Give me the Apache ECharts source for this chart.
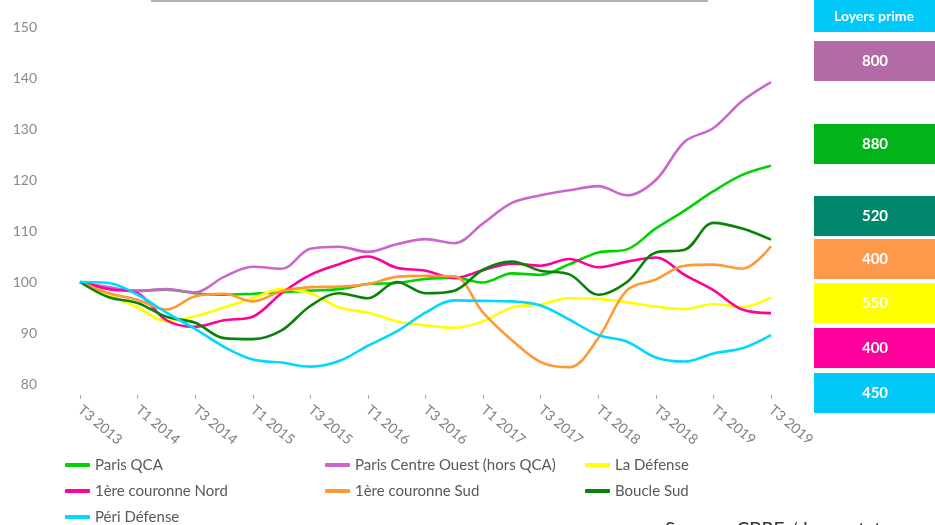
<!DOCTYPE html>
<html>
<head>
<meta charset="utf-8">
<script src="https://cdn.jsdelivr.net/npm/echarts@6/dist/echarts.min.js"></script>
<style>
  html, body { margin: 0; padding: 0; background: #fff; }
  #chart { width: 935px; height: 525px; }
</style>
</head>
<body>
<div id="chart"></div>
<script>
// trimestres T3 2013 -> T3 2019
const quarters = [
  "T3 2013", "T4 2013", "T1 2014", "T2 2014", "T3 2014", "T4 2014",
  "T1 2015", "T2 2015", "T3 2015", "T4 2015", "T1 2016", "T2 2016",
  "T3 2016", "T4 2016", "T1 2017", "T2 2017", "T3 2017", "T4 2017",
  "T1 2018", "T2 2018", "T3 2018", "T4 2018", "T1 2019", "T2 2019", "T3 2019"
];
const yTicks = [80, 90, 100, 110, 120, 130, 140, 150];

const parisQCA = [100, 98.8, 98.3, 98.5, 97.8, 97.5, 97.7, 98, 98.3, 98.6, 99.6, 99.8, 100.6,
  100.8, 99.9, 101.7, 101.4, 103.5, 105.8, 106.4, 110.5, 114, 117.8, 121, 122.8];
const parisCentreOuest = [100, 99, 98.2, 98.6, 98, 101, 103, 102.6, 106.5, 106.9, 105.9, 107.4, 108.4,
  107.6, 111.5, 115.5, 117, 118, 118.8, 117, 120, 127.5, 130.2, 135.5, 139.2];
const laDefense = [100, 97.5, 95, 92.3, 93.3, 95, 96.8, 98.6, 97.8, 95, 94, 92.3, 91.5,
  91, 92.3, 95, 95.6, 96.8, 96.7, 96, 95.2, 94.7, 95.7, 95.1, 97];
const couronneNord = [100, 98.6, 97.8, 92.5, 91.2, 92.5, 93.2, 97.8, 101.4, 103.5, 105, 102.8, 102.2,
  100.8, 102.3, 103.6, 103.2, 104.5, 102.9, 104, 104.8, 101.4, 98.4, 94.6, 93.9];
const couronneSud = [100, 97.8, 96.5, 94.6, 97.2, 97.7, 96.2, 98.2, 99, 99.1, 99.6, 101, 101.2,
  101.1, 94, 88.6, 84.3, 83.3, 89, 98.4, 100.5, 103.2, 103.4, 102.6, 107];
const boucleSud = [100, 97, 95.9, 93.2, 92, 89, 88.8, 90.5, 95.3, 97.8, 96.8, 100, 97.8,
  98.3, 102.4, 104, 102.2, 101.5, 97.5, 100, 105.8, 106.3, 111.6, 110.5, 108.3];
const periDefense = [100, 99.8, 97.5, 94, 90.8, 87.3, 84.8, 84.2, 83.4, 84.5, 87.5, 90.3, 94,
  96.4, 96.3, 96.2, 95.4, 92.6, 89.6, 88.3, 85.2, 84.4, 86, 87, 89.6];

const seriesNames = [
  "Paris QCA", "Paris Centre Ouest (hors QCA)", "La Défense",
  "1ère couronne Nord", "1ère couronne Sud", "Boucle Sud", "Péri Défense"
];
const seriesValues = [parisQCA, parisCentreOuest, laDefense, couronneNord, couronneSud, boucleSud, periDefense];
const seriesColors = ["#00d400", "#cc66cc", "#ffff00", "#ff0099", "#ff9933", "#0a820a", "#00d8ff"];

// encadré "Loyers prime"
const primeTitle = "Loyers prime";
const primeRents = ["800", "880", "520", "400", "550", "400", "450"];
const primeColors = ["#b36ba6", "#00b419", "#00876c", "#ff9a4d", "#ffff00", "#ff009c", "#00c8f8"];
const primeTops = [41, 124, 196, 239, 283, 328, 373];

// position des entrées de légende (3 colonnes)
const legendLeft = [65, 325, 585, 65, 325, 585, 65];
const legendRowY = [465, 465, 465, 491, 491, 491, 517];

const chart = echarts.init(document.getElementById("chart"));

const graphics = [
  { type: "line", shape: { x1: 151, y1: 1, x2: 708, y2: 1 }, style: { stroke: "#999", lineWidth: 1.5 } },
  { type: "rect", shape: { x: 814, y: 0, width: 121, height: 32 }, style: { fill: "#00c8f8" } },
  {
    type: "text", x: 874, y: 16,
    style: { text: primeTitle, fill: "#fff", font: "bold 14px Lato", align: "center", verticalAlign: "middle" }
  },
  {
    type: "text", left: 665, top: 520,
    style: { text: "Source : CBRE / Immostat", fill: "#333", font: "19px Lato" }
  }
];
primeRents.forEach((v, i) => {
  graphics.push({ type: "rect", shape: { x: 814, y: primeTops[i], width: 121, height: 40 }, style: { fill: primeColors[i] } });
  graphics.push({
    type: "text", x: 875, y: primeTops[i] + 20,
    style: { text: v, fill: "#fff", font: "bold 15px Lato", align: "center", verticalAlign: "middle" }
  });
});

const legends = seriesNames.map((name, i) => ({
  data: [name],
  left: legendLeft[i],
  top: legendRowY[i] - 8,
  padding: 0,
  icon: "roundRect",
  itemWidth: 25,
  itemHeight: 4,
  textStyle: { color: "#595959", fontSize: 15, fontFamily: "Lato", lineHeight: 16 }
}));

const option = {
  animation: false,
  backgroundColor: "#fff",
  color: seriesColors,
  grid: { left: 80, right: 164, top: 27, bottom: 141 },
  legend: legends,
  xAxis: {
    type: "category",
    data: quarters,
    boundaryGap: false,
    offset: 11,
    axisLine: { show: false },
    axisTick: { show: true, interval: 1, length: 4, lineStyle: { color: "#aaa" } },
    axisLabel: {
      interval: 1, rotate: -40, color: "#7f7f7f", fontSize: 14, fontFamily: "Lato", margin: 13
    },
    splitLine: { show: false }
  },
  yAxis: {
    type: "value",
    min: yTicks[0],
    max: yTicks[yTicks.length - 1],
    interval: 10,
    axisLine: { show: false },
    axisTick: { show: false },
    splitLine: { show: false },
    axisLabel: { color: "#8a8a8a", fontSize: 14, fontFamily: "Lato", margin: 43 }
  },
  graphic: graphics,
  series: seriesNames.map((name, i) => ({
    name: name,
    type: "line",
    data: seriesValues[i],
    smooth: 0.35,
    showSymbol: false,
    lineStyle: { width: 2.6, color: seriesColors[i] },
    itemStyle: { color: seriesColors[i] }
  }))
};

chart.setOption(option);
</script>
</body>
</html>
